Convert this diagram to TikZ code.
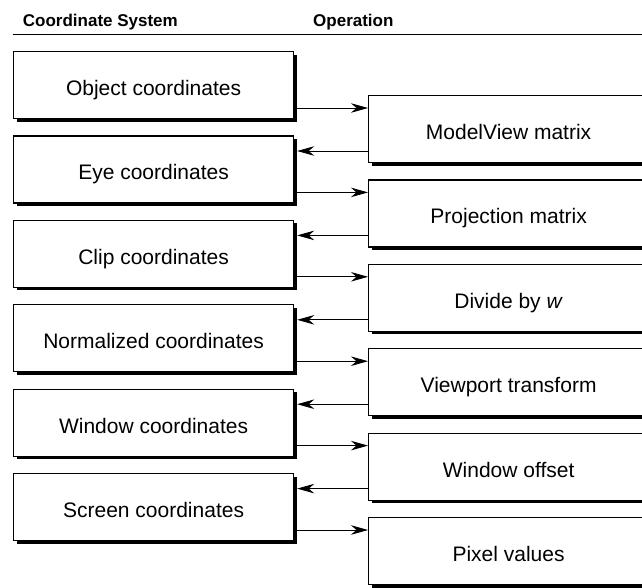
\documentclass[tikz,border=0pt]{standalone}
\usepackage{fontspec}
\setmainfont{Liberation Sans}
\usetikzlibrary{arrows.meta,shadows}
\tikzset{
  cbox/.style={draw, line width=1.2pt, fill=white, minimum width=280pt, minimum height=67pt,
    inner sep=0pt, anchor=north west, font=\fontsize{21}{25}\selectfont,
    text height=22pt, text depth=1.4pt,
    drop shadow={shadow xshift=3pt, shadow yshift=-3pt, opacity=1, fill=black}},
  hdr/.style={anchor=base west, inner sep=0pt, font=\bfseries\fontsize{17}{20}\selectfont},
  arr/.style={line width=0.8pt, -{Stealth[length=17pt, width=9.5pt, inset=5.5pt]}},
}
\begin{document}
\begin{tikzpicture}[x=1pt, y=-1pt]
\useasboundingbox (0,0) rectangle (642,587);
\clip (0,0) rectangle (642,587);
\node[hdr] (h1) at (22.7,26.7) {Coordinate System};
\node[hdr] (h2) at (313,26.7) {Operation};
\coordinate (l0) at (12.7,34.5);
\coordinate (l1) at (642,34.5);
\draw[line width=1pt] (l0) -- (l1);
% left boxes
\node[cbox] (c1) at (13,51) {Object coordinates};
\node[cbox] (c2) at (13,135.4) {Eye coordinates};
\node[cbox] (c3) at (13,219.8) {Clip coordinates};
\node[cbox] (c4) at (13,304.2) {Normalized coordinates};
\node[cbox] (c5) at (13,388.6) {Window coordinates};
\node[cbox] (c6) at (13,473) {Screen coordinates};
% right boxes
\node[cbox] (o1) at (368,95) {ModelView matrix};
\node[cbox] (o2) at (368,179.4) {Projection matrix};
\node[cbox] (o3) at (368,263.8) {Divide by \textit{w}};
\node[cbox] (o4) at (368,348.2) {Viewport transform};
\node[cbox] (o5) at (368,432.6) {Window offset};
\node[cbox] (o6) at (368,517) {Pixel values};
% forward arrows
\foreach \a/\b in {c1/o1,c2/o2,c3/o3,c4/o4,c5/o5,c6/o6}{
  \draw[arr] ([xshift=3pt,yshift=-57pt]\a.north east) -- ([yshift=-57pt]\a.north east -| \b.west);
}
% back arrows
\foreach \a/\b in {o1/c2,o2/c3,o3/c4,o4/c5,o5/c6}{
  \draw[arr] ([yshift=-56pt]\a.north west) -- ([xshift=3pt,yshift=-56pt]\a.north west -| \b.east);
}
\end{tikzpicture}
\end{document}
